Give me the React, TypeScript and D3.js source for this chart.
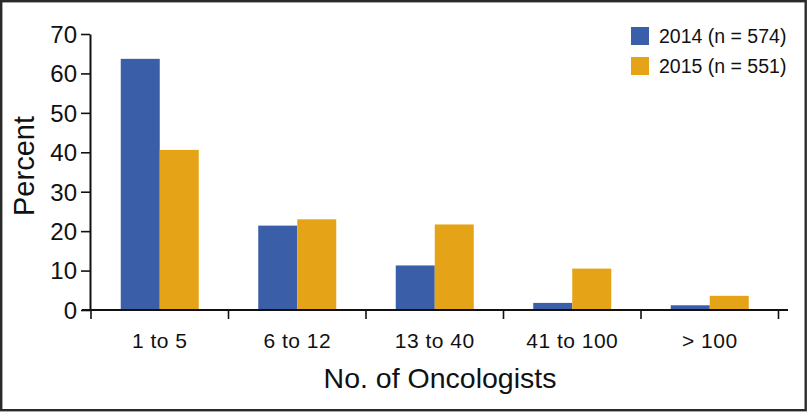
import React, { useEffect, useRef } from "react";
import * as d3 from "d3";

const categories = ["1 to 5", "6 to 12", "13 to 40", "41 to 100", "> 100"];
const series2014 = [63.7, 21.4, 11.3, 1.8, 1.2];
const series2015 = [40.6, 23.0, 21.7, 10.5, 3.6];
const seriesNames = ["2014 (n = 574)", "2015 (n = 551)"];
const seriesColors = ["#3A5EA8", "#E5A418"];
const yTicks = [0, 10, 20, 30, 40, 50, 60, 70];

export default function App() {
  const ref = useRef<SVGSVGElement>(null);

  useEffect(() => {
    const svg = d3.select(ref.current);
    svg.selectAll("*").remove();
    const W = 809, H = 412;
    const font = "'Liberation Sans', Arial, Helvetica, sans-serif";

    svg.append("rect").attr("x", 0).attr("y", 0).attr("width", W).attr("height", H).attr("fill", "#fff");
    svg.append("rect").attr("x", 1.2).attr("y", 1.2).attr("width", 804.5).attr("height", 409)
      .attr("fill", "none").attr("stroke", "#2a2a2a").attr("stroke-width", 2.4);

    const x = d3.scaleBand<string>().domain(categories).range([91, 778.5]).padding(0);
    const y = d3.scaleLinear().domain([0, 70]).range([310, 34]);
    const barW = 39;

    const data = categories.map((c, i) => ({ c, v: [series2014[i], series2015[i]] }));
    const g = svg.append("g");
    data.forEach((d) => {
      const cx = (x(d.c) as number) + x.bandwidth() / 2;
      d.v.forEach((v, j) => {
        g.append("rect")
          .attr("x", cx - barW + j * barW)
          .attr("y", y(v))
          .attr("width", barW)
          .attr("height", y(0) - y(v))
          .attr("fill", seriesColors[j]);
      });
    });

    // Y axis
    const ya = svg.append("g").attr("transform", "translate(90,0)")
      .call(d3.axisLeft(y).tickValues(yTicks).tickSize(9).tickPadding(4).tickSizeOuter(0));
    ya.select(".domain").attr("stroke", "#111").attr("stroke-width", 2);
    ya.selectAll(".tick line").attr("stroke", "#111").attr("stroke-width", 1.6);
    ya.selectAll(".tick text").attr("font-family", font).attr("font-size", 24).attr("fill", "#111")
      .attr("dy", "0.35em");

    // X axis
    const xa = svg.append("g").attr("transform", "translate(0,310)");
    xa.append("line").attr("x1", 82).attr("x2", 788).attr("y1", 0).attr("y2", 0)
      .attr("stroke", "#111").attr("stroke-width", 2);
    const bounds = categories.map((c) => x(c) as number).concat([x.range()[1]]);
    xa.selectAll("line.tk").data(bounds).enter().append("line").attr("class", "tk")
      .attr("x1", (d) => d).attr("x2", (d) => d).attr("y1", 0).attr("y2", 9)
      .attr("stroke", "#111").attr("stroke-width", 1.6);
    xa.selectAll("text").data(categories).enter().append("text")
      .attr("x", (d) => (x(d) as number) + x.bandwidth() / 2)
      .attr("y", 38)
      .attr("text-anchor", "middle")
      .attr("font-family", font).attr("font-size", 21).attr("letter-spacing", 0.5)
      .attr("fill", "#111")
      .text((d) => d);

    // Axis titles
    svg.append("text").attr("transform", "translate(34,166) rotate(-90)")
      .attr("text-anchor", "middle").attr("font-family", font).attr("font-size", 29)
      .attr("fill", "#111").text("Percent");
    svg.append("text").attr("x", 440).attr("y", 388)
      .attr("text-anchor", "middle").attr("font-family", font).attr("font-size", 28.5)
      .attr("fill", "#111").text("No. of Oncologists");

    // Legend
    const lg = svg.append("g");
    seriesNames.forEach((n, i) => {
      lg.append("rect").attr("x", 631).attr("y", 27 + i * 30).attr("width", 18).attr("height", 18)
        .attr("fill", seriesColors[i]);
      lg.append("text").attr("x", 659).attr("y", 43 + i * 30)
        .attr("font-family", font).attr("font-size", 19.5).attr("fill", "#111").text(n);
    });
  }, []);

  return (
    <svg ref={ref} width={809} height={412}
      style={{ position: "absolute", left: 0, top: 0, display: "block" }} />
  );
}
